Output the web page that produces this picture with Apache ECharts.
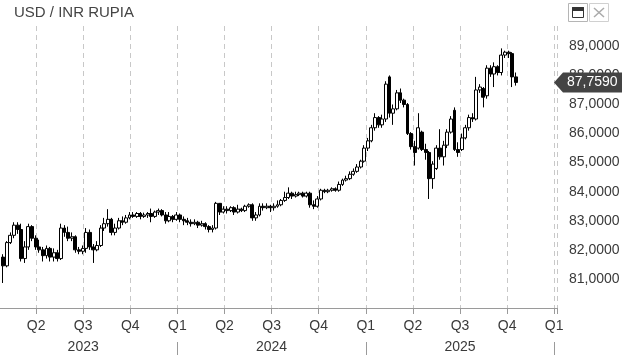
<!DOCTYPE html>
<html>
<head>
<meta charset="utf-8">
<script src="https://cdn.jsdelivr.net/npm/echarts@6/dist/echarts.min.js"></script>
<style>
html, body { margin: 0; padding: 0; background: #fff; }
#chart { width: 625px; height: 355px; }
</style>
</head>
<body>
<div id="chart"></div>
<script>
// weekly candles, x measured in quarters from 1 Jan 2023
const firstWeek = 0.3;
const weekStep = 7 / 91.31;

const opens = [
  81.75, 81.45, 82.25, 82.5, 82.85, 82.7, 81.7, 82.1, 82.8, 82.4,
  82.1, 82.0, 81.8, 82.05, 81.75, 81.9, 81.7, 82.75, 82.6, 82.4,
  82.45, 82.0, 81.95, 82.05, 82.6, 82.1, 82.0, 82.15, 82.75, 82.9,
  83.05, 82.6, 82.75, 83.0, 82.95, 83.1, 83.2, 83.15, 83.25, 83.15,
  83.2, 83.25, 83.15, 83.3, 83.35, 83.2, 83.0, 83.15, 83.05, 83.2,
  83.05, 83.0, 82.95, 82.9, 82.95, 82.85, 82.9, 82.8, 82.7, 82.75,
  83.6, 83.3, 83.4, 83.35, 83.45, 83.3, 83.4, 83.35, 83.5, 83.55,
  83.1, 83.2, 83.5, 83.45, 83.5, 83.45, 83.5, 83.55, 83.7, 83.8,
  83.95, 83.85, 83.9, 83.95, 83.85, 83.95, 83.55, 83.5, 83.75, 84.05,
  84.0, 84.05, 84.1, 84.05, 84.25, 84.4, 84.45, 84.6, 84.7, 84.85,
  85.05, 85.5, 85.75, 86.2, 86.55, 86.3, 86.5, 87.95, 86.7, 86.85,
  87.4, 87.15, 87.0, 86.0, 85.55, 85.5, 86.05, 85.45, 85.35, 84.45,
  84.8, 85.5, 85.2, 85.6, 86.05, 86.8, 85.45, 85.45, 85.85, 86.2,
  86.55, 86.5, 87.5, 87.55, 87.3, 88.25, 88.05, 88.3, 88.1, 88.7,
  88.8, 88.75, 87.95
];
const closes = [
  81.45, 82.25, 82.5, 82.85, 82.7, 81.7, 82.1, 82.8, 82.4, 82.1,
  82.0, 81.8, 82.05, 81.75, 81.9, 81.7, 82.75, 82.6, 82.4, 82.45,
  82.0, 81.95, 82.05, 82.6, 82.1, 82.0, 82.15, 82.75, 82.9, 83.05,
  82.6, 82.75, 83.0, 82.95, 83.1, 83.2, 83.15, 83.25, 83.15, 83.2,
  83.25, 83.15, 83.3, 83.35, 83.2, 83.0, 83.15, 83.05, 83.2, 83.05,
  83.0, 82.95, 82.9, 82.95, 82.85, 82.9, 82.8, 82.7, 82.75, 83.6,
  83.3, 83.4, 83.35, 83.45, 83.3, 83.4, 83.35, 83.5, 83.55, 83.1,
  83.2, 83.5, 83.45, 83.5, 83.45, 83.5, 83.55, 83.7, 83.8, 83.95,
  83.85, 83.9, 83.95, 83.85, 83.95, 83.55, 83.5, 83.75, 84.05, 84.0,
  84.05, 84.1, 84.05, 84.25, 84.4, 84.45, 84.6, 84.7, 84.85, 85.05,
  85.5, 85.75, 86.2, 86.55, 86.3, 86.5, 87.7, 86.7, 86.85, 87.4,
  87.15, 87.0, 86.0, 85.55, 85.35, 86.2, 85.45, 85.35, 84.45, 84.95,
  85.5, 85.2, 85.6, 86.05, 86.5, 85.45, 85.35, 85.85, 86.2, 86.55,
  86.5, 87.5, 87.6, 87.25, 88.25, 88.05, 88.3, 88.1, 88.7, 88.8,
  88.75, 87.95, 87.759
];
const lows = [
  80.86, 81.4, 82.2, 82.4, 82.55, 81.6, 81.55, 82.0, 82.3, 82.0,
  81.9, 81.6, 81.7, 81.6, 81.6, 81.6, 81.65, 82.45, 82.3, 82.3,
  81.9, 81.85, 81.85, 81.9, 82.0, 81.55, 81.95, 82.1, 82.65, 82.8,
  82.5, 82.5, 82.7, 82.85, 82.9, 83.05, 83.1, 83.1, 83.05, 83.1,
  83.1, 82.95, 83.1, 83.2, 83.15, 82.9, 82.95, 82.95, 83.0, 82.95,
  82.85, 82.85, 82.8, 82.85, 82.75, 82.8, 82.7, 82.6, 82.6, 82.7,
  83.2, 83.25, 83.25, 83.3, 83.2, 83.25, 83.3, 83.3, 83.45, 83.0,
  83.0, 83.15, 83.35, 83.4, 83.3, 83.35, 83.45, 83.5, 83.65, 83.75,
  83.75, 83.8, 83.85, 83.8, 83.8, 83.45, 83.4, 83.45, 83.7, 83.95,
  83.95, 84.0, 84.0, 84.0, 84.2, 84.35, 84.4, 84.55, 84.65, 84.8,
  85.0, 85.4, 85.7, 86.1, 86.2, 86.2, 86.4, 86.55, 86.3, 86.8,
  87.05, 86.9, 85.95, 85.45, 84.9, 85.45, 85.4, 85.1, 83.75, 84.1,
  84.75, 85.1, 84.9, 85.5, 86.0, 85.4, 85.2, 85.4, 85.8, 86.1,
  86.4, 86.45, 87.4, 86.9, 87.2, 87.95, 87.6, 88.0, 88.0, 88.6,
  88.6, 87.6, 87.65
];
const highs = [
  81.85, 82.3, 82.6, 82.95, 82.95, 82.9, 82.3, 82.9, 82.85, 82.5,
  82.35, 82.1, 82.15, 82.1, 82.05, 82.0, 82.9, 82.85, 82.8, 82.6,
  82.5, 82.1, 82.15, 82.75, 82.7, 82.2, 82.3, 82.85, 83.1, 83.4,
  83.1, 82.9, 83.1, 83.15, 83.2, 83.3, 83.3, 83.3, 83.3, 83.28,
  83.3, 83.42, 83.35, 83.42, 83.4, 83.3, 83.3, 83.2, 83.3, 83.25,
  83.15, 83.1, 83.05, 83.05, 83.0, 83.0, 82.95, 82.85, 82.85, 83.65,
  83.6, 83.5, 83.5, 83.5, 83.5, 83.55, 83.45, 83.55, 83.6, 83.6,
  83.3, 83.6, 83.6, 83.6, 83.55, 83.6, 83.7, 83.75, 84.0, 84.15,
  84.0, 84.0, 84.0, 84.0, 84.0, 84.0, 83.7, 83.85, 84.1, 84.1,
  84.1, 84.15, 84.15, 84.35, 84.45, 84.55, 84.7, 84.8, 84.95, 85.1,
  85.6, 85.85, 86.3, 86.7, 86.6, 86.65, 87.8, 88.0, 87.0, 87.5,
  87.55, 87.2, 87.05, 86.05, 85.75, 86.7, 86.1, 85.65, 85.4, 85.05,
  85.6, 86.15, 85.75, 86.15, 86.6, 86.9, 85.7, 86.0, 86.3, 86.65,
  86.7, 87.95, 87.7, 87.6, 88.35, 88.35, 88.45, 88.35, 88.93, 88.85,
  88.85, 88.8, 88.1
];

const quarterNames = ['Q1', 'Q2', 'Q3', 'Q4'];
const yearLabels = ['2023', '2024', '2025'];
const yearLabelPos = [2, 6, 10];
const yearBreaks = [4, 8, 12];
const priceTicks = [81, 82, 83, 84, 85, 86, 87, 88, 89];
const lastPrice = 87.759;

const minorTicks = [];
for (let v = 80.2; v < 89.7; v += 0.2) minorTicks.push(Math.round(v * 10) / 10);

const candles = opens.map((o, i) => [firstWeek + i * weekStep, o, closes[i], lows[i], highs[i]]);

const fmt = v => v.toFixed(4).replace('.', ',');
const font = 'Liberation Sans, Arial, sans-serif';
const axisGrey = '#9a9a9a';
const labelColor = '#3a3a3a';

const chart = echarts.init(document.getElementById('chart'), null, { renderer: 'canvas' });

const option = {
  animation: false,
  backgroundColor: '#fff',
  title: {
    text: 'USD / INR RUPIA',
    left: 9, top: 0,
    textStyle: { fontFamily: font, fontSize: 15, fontWeight: 'normal', color: '#444' }
  },
  grid: { left: -11, right: 68, top: 26, bottom: 47, outerBoundsMode: 'none', containLabel: false },
  xAxis: [{
    type: 'value', min: 0, max: 12.06, interval: 1,
    axisLine: { lineStyle: { color: axisGrey } },
    axisTick: { length: 6, lineStyle: { color: axisGrey } },
    axisLabel: {
      margin: 11, color: labelColor, fontFamily: font, fontSize: 14,
      formatter: v => Number.isInteger(v) ? quarterNames[v % 4] : ''
    },
    splitLine: { show: true, lineStyle: { color: '#c8c8c8', type: [5, 4] } }
  }, {
    type: 'value', min: 0, max: 12.06, position: 'bottom', offset: 21,
    axisLine: { show: false }, axisTick: { show: false }, splitLine: { show: false },
    axisLabel: {
      customValues: yearLabelPos, margin: 11, color: labelColor, fontFamily: font, fontSize: 14,
      formatter: v => yearLabels[yearLabelPos.indexOf(v)]
    }
  }, {
    type: 'value', min: 0, max: 12.06, position: 'bottom', offset: 34,
    axisLine: { show: false }, splitLine: { show: false }, axisLabel: { show: false },
    axisTick: { customValues: yearBreaks, length: 14, lineStyle: { color: axisGrey } }
  }],
  yAxis: [{
    type: 'value', position: 'right', min: 80, max: 89.7,
    axisLine: { show: true, lineStyle: { color: axisGrey } },
    axisTick: { show: true, customValues: priceTicks, length: 7, lineStyle: { color: axisGrey } },
    axisLabel: { customValues: priceTicks, margin: 12, color: labelColor, fontFamily: font, fontSize: 14, formatter: fmt },
    splitLine: { show: false }
  }, {
    type: 'value', position: 'right', min: 80, max: 89.7,
    axisLine: { show: false }, axisLabel: { show: false }, splitLine: { show: false },
    axisTick: { show: true, customValues: minorTicks, length: 4, lineStyle: { color: '#d6d6d6' } }
  }],
  series: [{
    type: 'candlestick',
    xAxisIndex: 0, yAxisIndex: 0,
    barWidth: 3.4,
    data: candles,
    itemStyle: { color: '#fff', color0: '#000', borderColor: '#000', borderColor0: '#000', borderWidth: 1 }
  }]
};
chart.setOption(option);

const py = chart.convertToPixel({ yAxisIndex: 0 }, lastPrice);
chart.setOption({
  graphic: [
    { type: 'polygon', shape: { points: [[554, py], [563, py - 10], [622, py - 10], [622, py + 10], [563, py + 10]] },
      style: { fill: '#444' }, z: 100 },
    { type: 'text', x: 567, y: py, style: { text: fmt(lastPrice), fill: '#fff', font: '14px ' + font, textVerticalAlign: 'middle' }, z: 101 },
    { type: 'rect', shape: { x: 568.5, y: 3.5, width: 19, height: 18 }, style: { fill: '#fff', stroke: '#b5b5b5', lineWidth: 1 } },
    { type: 'rect', shape: { x: 572.5, y: 7.5, width: 11, height: 10 }, style: { fill: '#fff', stroke: '#333', lineWidth: 1 } },
    { type: 'rect', shape: { x: 572.5, y: 7.5, width: 11, height: 3 }, style: { fill: '#333', stroke: '#333', lineWidth: 1 } },
    { type: 'rect', shape: { x: 589.5, y: 3.5, width: 19, height: 18 }, style: { fill: '#fff', stroke: '#d0d0d0', lineWidth: 1 } },
    { type: 'line', shape: { x1: 594, y1: 8, x2: 604, y2: 17 }, style: { stroke: '#aaa', lineWidth: 1.5 } },
    { type: 'line', shape: { x1: 604, y1: 8, x2: 594, y2: 17 }, style: { stroke: '#aaa', lineWidth: 1.5 } }
  ]
});
</script>
</body>
</html>
